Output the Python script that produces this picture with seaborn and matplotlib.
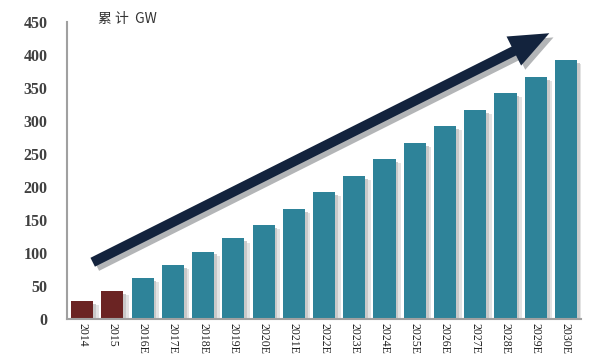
import matplotlib
matplotlib.use("Agg")
import matplotlib.pyplot as plt
import matplotlib.patheffects as pe
import numpy as np
import pandas as pd
import seaborn as sns

years = ["2014", "2015", "2016E", "2017E", "2018E", "2019E", "2020E", "2021E",
         "2022E", "2023E", "2024E", "2025E", "2026E", "2027E", "2028E", "2029E", "2030E"]
capacity = [27, 42, 62, 82, 102, 122, 142, 167, 192, 217, 242, 267, 292, 317, 342, 367, 392]
kind = ["actual"] * 2 + ["forecast"] * 15
y_ticks = [0, 50, 100, 150, 200, 250, 300, 350, 400, 450]

# trend arrow, in data coords (category index, GW)
arrow_tail = (0.35, 86)
arrow_head = (15.45, 433)

df = pd.DataFrame({"year": years, "gw": capacity, "kind": kind})

sns.set_style("white")
plt.rcParams["font.family"] = ["Liberation Serif", "DejaVu Serif"]

fig = plt.figure(figsize=(5.95, 3.59), dpi=100)
ax = fig.add_axes([0.1126, 0.1114, 0.864, 0.8273])

sns.barplot(data=df, x="year", y="gw", hue="kind", dodge=False, width=0.73,
            palette={"actual": "#6B2423", "forecast": "#2E8399"},
            legend=False, ax=ax, saturation=1, linewidth=0)

shadow = [pe.SimplePatchShadow(offset=(2, -2), shadow_rgbFace="#9A9A9A", alpha=0.5),
          pe.SimplePatchShadow(offset=(4, -3), shadow_rgbFace="#C8C8C8", alpha=0.5),
          pe.Normal()]
for p in ax.patches:
    p.set_linewidth(0)
    p.set_path_effects(shadow)

ax.annotate("", xy=arrow_head, xytext=arrow_tail,
            arrowprops=dict(arrowstyle="simple,head_length=2.2,head_width=1.8,tail_width=0.55",
                            mutation_scale=13, fc="#13233D", ec="none", lw=0,
                            shrinkA=0, shrinkB=0,
                            path_effects=[pe.SimplePatchShadow(offset=(3, -3), alpha=0.3),
                                          pe.Normal()]))

ax.set_xlim(-0.5, len(years) - 0.5)
ax.set_ylim(0, 450)
ax.set_yticks(y_ticks)
ax.set_yticklabels([str(v) for v in y_ticks], fontsize=11.5, fontweight="bold", color="#404040")
ax.set_xticks(range(len(years)))
ax.set_xticklabels(years, rotation=270, fontsize=8.5, color="#222222")
ax.set_xticks(np.arange(-0.5, len(years), 1), minor=True)
ax.tick_params(axis="x", which="major", length=0, pad=3)
ax.tick_params(axis="x", which="minor", length=4, color="#A0A0A0", direction="out")
ax.tick_params(axis="y", length=4, color="#A0A0A0", direction="out", pad=10)
ax.set_xlabel("")
ax.set_ylabel("")

for s in ["top", "right"]:
    ax.spines[s].set_visible(False)
for s in ["left", "bottom"]:
    ax.spines[s].set_color("#A0A0A0")
    ax.spines[s].set_linewidth(1.5)

ax.text(0.06, 0.985, "累 计  GW", transform=ax.transAxes, ha="left", va="bottom",
        fontsize=10, color="#333333", family=["Noto Sans CJK SC", "DejaVu Sans"])

fig.savefig("out.png", dpi=100)
plt.close(fig)
